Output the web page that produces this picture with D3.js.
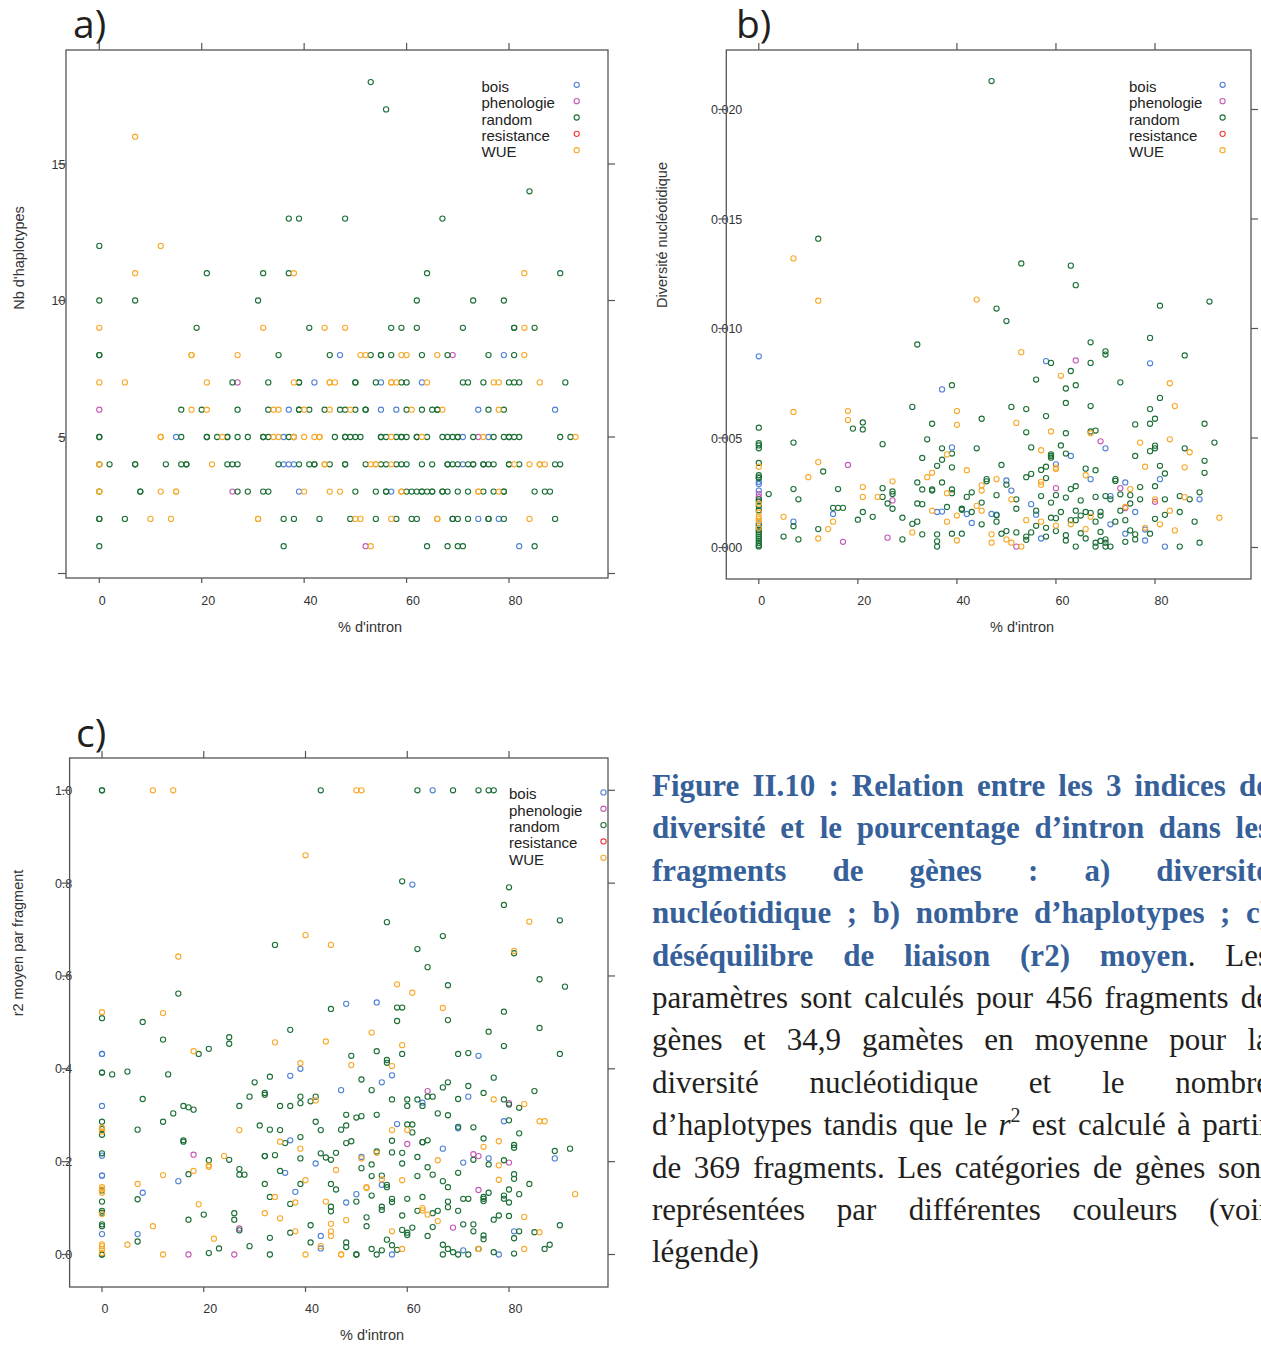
<!DOCTYPE html>
<html><head><meta charset="utf-8">
<script src="https://cdn.jsdelivr.net/npm/d3@7"></script>
<style>body{margin:0;background:#fff}svg{display:block}</style>
</head><body>
<svg id="chart" width="1261" height="1347"></svg>
<script>
// ---------- shared ----------
const categories = ["bois","phenologie","random","resistance","WUE"];
const catColors = ["#4f81d6","#c45ab8","#1b6e35","#f23a3a","#f7a92a"];
const xTicks = [0,20,40,60,80];
const xTickLabels = ["0","20","40","60","80"];
const xTitle = "% d'intron";

// ---------- panel a : Nb d'haplotypes (rows: [y, [x...]]) ----------
const hapTicks = [0,5,10,15];
const hapTickLabels = ["","5","10","15"];
const hapBoisRows = [[8,[47,79]],[7,[42,55,63]],[6,[37,55,58,74,89]],[5,[15,36,38,71,76]],[4,[36,37,38,71]],[3,[39,57]],[2,[74,78]],[1,[82]]];
const hapPhenoRows = [[8,[69]],[7,[27]],[6,[0]],[5,[74]],[3,[26]],[1,[52]]];
const hapRandomRows = [
 [18,[53]],[17,[56]],[14,[84]],[13,[37,39,48,67]],[12,[0]],[11,[21,32,37,64,90]],[10,[0,7,31,62,73,79]],
 [9,[19,41,57,59,62,71,81,81,85]],
 [8,[0,0,35,45,53,55,55,57,63,68,76,81]],
 [7,[26,33,39,39,50,50,54,59,60,71,72,75,80,81,82,91]],
 [6,[16,20,27,33,39,39,41,44,47,48,50,52,52,60,63,65,66,66,76,79]],
 [5,[0,0,16,21,21,23,25,25,27,29,32,32,33,37,46,48,48,49,50,51,55,55,56,58,59,59,60,62,62,64,67,68,69,70,70,73,77,79,80,80,81,82,90,92]],
 [4,[0,2,7,7,13,16,17,17,25,26,27,35,39,41,42,42,45,48,48,52,55,56,58,59,60,63,65,68,68,69,70,72,73,73,75,75,76,77,80,80,82,89,90]],
 [3,[0,8,8,27,29,32,33,50,54,56,56,60,61,62,63,63,64,65,65,67,67,68,70,72,75,77,79,79,85,87,88]],
 [2,[0,0,5,36,38,43,49,54,58,61,62,69,69,70,72,76,76,79,89]],
 [1,[0,36,64,68,70,71,85]]
];
const hapResistRows = [];
const hapWUERows = [
 [16,[7]],[12,[12]],[11,[7,38,83]],[9,[0,32,44,48,83]],[8,[18,18,27,51,52,59,60,66,83]],
 [7,[0,5,21,38,45,45,46,57,57,58,64,77,78,86]],
 [6,[18,21,34,35,40,45,49,61,67,78]],
 [5,[12,12,24,34,35,38,38,40,42,43,43,57,63,75,93]],
 [4,[0,0,22,44,44,53,54,54,57,81,84,86,86,87]],
 [3,[0,0,12,15,15,40,45,47,59,59,74,74,78]],
 [2,[10,14,31,31,50,51,57,66,66,84]],
 [1,[53]]
];

// ---------- panel b : Diversité nucléotidique ----------
const divTicks = [0,0.005,0.010,0.015,0.020];
const divTickLabels = ["0.000","0.005","0.010","0.015","0.020"];
const divBois = [[0,.00873],[58,.00851],[79,.00841],[37,.00722],[39,.00457],[70,.00453],[63,.00418],[60,.0038],[67,.00312],[81,.00312],[50,.00306],[74,.00297],[71,.00235],[89,.0022],[55,.00198],[36,.00162],[37,.00164],[76,.00162],[42,.00153],[47,.00153],[15,.00153],[43,.00112],[71,.00106],[7,.00118],[78,.00082],[74,.00063],[57,.00041],[78,.00032],[82,.00004],[0,.003],[0,.0029],[0,.0026],[0,.0011],[0,.0009],[48,.0015],[56,.0015],[51,.0026]];
const divPheno = [[64,.00854],[69,.00485],[18,.00377],[60,.00271],[73,.00271],[27,.00215],[80,.00209],[26,.00045],[17,.00026],[52,.00004],[0,.00245],[0,.0023],[74,.0018]];
const divRandom = [[47,.0213],[12,.0141],[53,.01297],[63,.01287],[64,.01198],[91,.01123],[81,.01104],[48,.01091],[50,.01034],[79,.00957],[32,.00927],[67,.00937],[70,.00896],[70,.00881],[86,.00877],[59,.00843],[67,.00843],[63,.00806],[56,.00767],[73,.00754],[39,.00741],[64,.00741],[62,.00726],[81,.00683],[62,.0066],[31,.00642],[51,.00642],[67,.00646],[54,.00632],[79,.00632],[58,.006],[45,.00588],[80,.00588],[21,.00571],[35,.00565],[76,.00562],[79,.00565],[90,.00565],[0,.00547],[19,.00543],[21,.00539],[62,.00522],[54,.00526],[67,.0053],[68,.00534],[7,.00479],[0,.00476],[0,.00466],[25,.00472],[34,.00494],[92,.00479],[61,.00466],[0,.00453],[37,.00453],[44,.00453],[55,.00457],[80,.00465],[80,.00453],[79,.0044],[86,.00453],[39,.00429],[59,.00425],[59,.00418],[59,.0041],[62,.00429],[76,.00418],[33,.00409],[37,.00401],[90,.00396],[0,.00386],[49,.00377],[36,.00373],[81,.00373],[39,.00366],[58,.00369],[66,.0036],[68,.00353],[13,.00347],[57,.00354],[90,.00341],[82,.00338],[55,.00336],[0,.0033],[0,.00317],[54,.00321],[58,.00317],[72,.00312],[72,.00304],[46,.00312],[46,.00302],[32,.00297],[37,.00297],[50,.00287],[64,.0028],[80,.0028],[25,.00271],[16,.00267],[7,.00267],[63,.00267],[77,.00276],[33,.00265],[35,.0026],[35,.00265],[39,.00265],[27,.00256],[2,.00244],[27,.00244],[39,.00248],[43,.00252],[57,.00235],[60,.00239],[73,.00243],[75,.00239],[70,.00235],[89,.00252],[85,.00235],[87,.0022],[25,.00231],[42,.00231],[48,.00239],[62,.00228],[52,.0022],[65,.00215],[68,.00231],[71,.0022],[82,.0022],[8,.0022],[26,.00201],[32,.00201],[33,.00198],[59,.00205],[45,.00205],[75,.00201],[77,.0022],[38,.00185],[15,.00181],[16,.00181],[17,.00181],[27,.00177],[41,.00177],[41,.00172],[52,.00177],[43,.00162],[21,.00162],[56,.00168],[61,.00162],[64,.00168],[66,.00162],[67,.00158],[69,.00162],[73,.00168],[85,.00162],[48,.00147],[23,.0014],[29,.00136],[59,.00136],[60,.00134],[65,.00146],[69,.00146],[20,.00127],[32,.00118],[45,.00106],[48,.00118],[63,.00125],[64,.00125],[68,.00118],[72,.00118],[74,.00125],[80,.00131],[82,.00149],[88,.00118],[7,.00097],[31,.00108],[56,.00099],[58,.0009],[12,.00084],[60,.00075],[69,.00071],[75,.00078],[49,.00063],[50,.00075],[52,.00069],[55,.00069],[65,.00065],[33,.0006],[36,.0006],[39,.00063],[41,.00063],[79,.00063],[62,.00056],[76,.0006],[5,.0005],[54,.0005],[58,.0005],[8,.00037],[29,.00037],[62,.00032],[66,.00041],[36,.00028],[70,.00037],[68,.00022],[70,.00022],[76,.00037],[74,.00026],[89,.00022],[36,.00004],[64,.00004],[68,.00004],[70,.00004],[71,.00004],[85,.00004],[69,.0003],[54,.00035],[0,.0032],[0,.0021],[0,.0019],[0,.001],[0,.0008],[0,.0007],[0,.0006],[0,.0005],[0,.0004],[0,.0003],[0,.0002],[0,.0001],[0,.00005],[0,.0022],[0,.0017]];
const divResist = [];
const divWUE = [[7,.0132],[12,.01127],[44,.01132],[53,.00892],[61,.00784],[83,.0075],[84,.00646],[7,.00619],[18,.00623],[40,.00623],[18,.00582],[52,.00569],[40,.0056],[59,.0053],[67,.00522],[77,.00479],[83,.00494],[57,.00444],[87,.00435],[38,.00425],[12,.0039],[0,.00369],[78,.00369],[86,.00366],[60,.00358],[42,.00353],[35,.00341],[34,.00321],[10,.00321],[66,.0033],[27,.00302],[48,.00312],[57,.00287],[45,.00284],[21,.00276],[75,.00267],[38,.00248],[21,.00231],[24,.00231],[51,.0022],[44,.0019],[74,.00185],[83,.00168],[35,.00168],[45,.00168],[40,.00146],[5,.0014],[93,.00136],[15,.00118],[38,.00118],[54,.00125],[57,.00118],[63,.00106],[81,.00106],[14,.00084],[31,.00069],[66,.00084],[78,.0009],[84,.00078],[47,.0006],[12,.00041],[50,.00037],[40,.00032],[47,.00022],[51,.00022],[53,.00004],[45,.0026],[60,.00365],[57,.003],[0,.002],[0,.0016],[0,.0014],[0,.0013],[0,.0012],[0,.0009],[86,.0023],[67,.0014],[60,.001],[80,.0022]];

// ---------- panel c : r2 moyen par fragment ----------
const r2Ticks = [0,0.2,0.4,0.6,0.8,1.0];
const r2TickLabels = ["0.0","0.2","0.4","0.6","0.8","1.0"];
const r2Bois = [[65,1],[61,.797],[48,.54],[54,.543],[0,.432],[0,.432],[74,.428],[39,.4],[37,.385],[57,.386],[55,.371],[47,.354],[72,.34],[63,.327],[0,.32],[79,.287],[58,.281],[70,.272],[37,.246],[67,.228],[0,.213],[51,.21],[71,.198],[76,.207],[89,.207],[42,.196],[36,.176],[0,.17],[0,.17],[15,.158],[55,.15],[8,.133],[38,.135],[50,.13],[48,.112],[0,.044],[7,.044],[43,.04],[81,.05],[43,.013],[71,.009],[57,0],[78,0]];
const r2Pheno = [[64,.352],[80,.326],[60,.238],[18,.215],[73,.216],[74,.212],[80,.198],[74,.139],[69,.058],[27,.056],[17,0],[26,0]];
const r2Random = [[0,1],[0,1],[43,1],[62,1],[69,1],[74,1],[76,1],[77,1],[59,.804],[80,.791],[79,.753],[90,.72],[56,.716],[67,.686],[34,.667],[81,.649],[15,.562],[62,.658],[64,.619],[86,.593],[68,.58],[91,.577],[0,.509],[8,.501],[58,.532],[59,.532],[45,.529],[58,.503],[68,.505],[79,.523],[86,.488],[37,.484],[76,.48],[12,.463],[25,.468],[25,.454],[79,.449],[21,.443],[19,.432],[54,.438],[49,.428],[59,.432],[70,.432],[72,.434],[90,.432],[56,.419],[56,.413],[0,.392],[0,.392],[2,.388],[5,.394],[13,.388],[33,.383],[77,.381],[51,.377],[30,.371],[68,.371],[72,.363],[67,.36],[53,.354],[85,.352],[32,.348],[32,.344],[39,.34],[42,.34],[75,.348],[29,.34],[8,.335],[57,.334],[60,.334],[62,.334],[64,.34],[65,.34],[70,.335],[79,.334],[41,.33],[63,.32],[80,.323],[60,.32],[27,.32],[35,.32],[37,.32],[39,.326],[16,.32],[17,.317],[18,.312],[82,.316],[14,.304],[66,.304],[48,.301],[54,.301],[51,.298],[50,.295],[68,.3],[0,.286],[12,.286],[80,.289],[42,.286],[31,.278],[60,.28],[61,.28],[48,.278],[70,.275],[73,.274],[0,.27],[0,.258],[7,.269],[33,.269],[35,.268],[43,.268],[47,.269],[61,.263],[82,.261],[57,.245],[49,.244],[48,.24],[39,.253],[16,.246],[16,.243],[36,.24],[64,.246],[63,.242],[63,.242],[75,.25],[92,.228],[89,.223],[81,.236],[81,.23],[54,.222],[57,.22],[59,.219],[43,.218],[46,.219],[0,.218],[34,.214],[32,.212],[32,.212],[39,.207],[44,.209],[45,.204],[25,.204],[21,.203],[62,.21],[73,.204],[76,.194],[79,.203],[59,.196],[53,.194],[27,.184],[35,.18],[51,.186],[64,.188],[17,.173],[27,.172],[28,.172],[62,.169],[70,.176],[81,.173],[81,.163],[65,.172],[55,.17],[53,.169],[67,.158],[32,.152],[45,.152],[39,.152],[84,.152],[56,.15],[56,.145],[68,.145],[46,.14],[80,.14],[0,.138],[76,.133],[82,.13],[79,.127],[53,.127],[33,.124],[7,.119],[63,.124],[75,.124],[75,.12],[75,.115],[71,.12],[72,.12],[60,.12],[57,.12],[57,.113],[79,.12],[80,.112],[37,.109],[50,.114],[0,.114],[45,.103],[45,.093],[55,.103],[55,.096],[62,.094],[66,.094],[65,.089],[70,.094],[68,.114],[68,.102],[0,.094],[0,.09],[26,.089],[20,.086],[59,.084],[52,.08],[78,.084],[80,.083],[17,.075],[26,.075],[77,.075],[41,.063],[0,.065],[0,.061],[52,.061],[71,.065],[73,.065],[65,.059],[61,.058],[27,.052],[37,.047],[59,.053],[60,.047],[60,.042],[73,.05],[82,.05],[85,.048],[75,.041],[75,.033],[64,.04],[90,.063],[81,.035],[33,.036],[7,.028],[56,.032],[41,.026],[57,.02],[48,.026],[48,.016],[67,.021],[88,.021],[29,.018],[23,.013],[53,.012],[55,.009],[58,.01],[68,.012],[87,.012],[74,.012],[69,.005],[77,.005],[0,0],[0,0],[21,.003],[33,0],[50,0],[50,0],[54,0],[67,0],[70,0],[72,0],[81,.002]];
const r2Resist = [];
const r2WUE = [[10,1],[14,1],[50,1],[51,1],[40,.86],[84,.717],[40,.688],[45,.667],[81,.654],[15,.642],[58,.582],[61,.564],[0,.522],[12,.52],[67,.531],[53,.478],[44,.459],[34,.457],[59,.451],[18,.438],[39,.412],[49,.408],[57,.406],[42,.332],[77,.334],[83,.324],[86,.287],[87,.287],[0,.273],[0,.265],[27,.268],[57,.268],[60,.268],[35,.243],[78,.244],[75,.232],[39,.228],[54,.219],[24,.212],[51,.207],[66,.203],[21,.189],[21,.192],[78,.192],[46,.182],[18,.18],[12,.171],[55,.162],[59,.16],[40,.16],[78,.161],[7,.152],[52,.145],[52,.143],[0,.145],[0,.14],[0,.133],[93,.13],[34,.124],[38,.112],[44,.114],[19,.108],[63,.1],[63,.095],[0,.087],[32,.089],[64,.086],[83,.081],[35,.078],[66,.072],[48,.074],[10,.061],[45,.066],[38,.05],[57,.05],[45,.05],[45,.04],[86,.048],[22,.034],[5,.021],[43,.018],[0,.022],[0,.018],[0,.012],[59,.012],[74,.012],[12,0],[40,0],[47,0],[47,0],[0,.003],[83,.012]];

// ---------- caption ----------
const captionLines = [
 [["Figure II.10 : Relation entre les 3 indices de","b"]],
 [["diversité et le pourcentage d’intron dans les","b"]],
 [["fragments de gènes : a) diversité","b"]],
 [["nucléotidique ; b) nombre d’haplotypes ; c)","b"]],
 [["déséquilibre de liaison (r2) moyen","b"],[". Les","n"]],
 [["paramètres sont calculés pour 456 fragments de","n"]],
 [["gènes et 34,9 gamètes en moyenne pour la","n"]],
 [["diversité nucléotidique et le nombre","n"]],
 [["d’haplotypes tandis que le ","n"],["r","i"],["2","sup"],[" est calculé à partir","n"]],
 [["de 369 fragments. Les catégories de gènes sont","n"]],
 [["représentées par différentes couleurs (voir","n"]],
 [["légende)","n"]]
];

// ================= drawing =================
const svg = d3.select("#chart");
svg.append("rect").attr("width",1261).attr("height",1347).attr("fill","#fff");
const frameCol = "#555";
const txtCol = "#333";
const sans = "'Liberation Sans', Arial, sans-serif";

const rowsToPts = rows => rows.flatMap(([y,xs]) => xs.map(x => [x,y]));

const panels = [
 { label:"a)", lx:73, ly:38,
   frame:{l:66,r:608,t:50,b:578},
   xr:[99.3,509], yd:[0,15], yr:[573.5,164],
   ticks:hapTicks, tickLabels:hapTickLabels, ylabX:65.5,
   title:"Nb d'haplotypes", titleX:24, titleY:258, xTitleX:370, xTitleY:632, xlabY:605,
   legX:481.5, legCx:576.7, legY:84.8,
   data:[rowsToPts(hapBoisRows),rowsToPts(hapPhenoRows),rowsToPts(hapRandomRows),rowsToPts(hapResistRows),rowsToPts(hapWUERows)] },
 { label:"b)", lx:736, ly:38,
   frame:{l:726.3,r:1251,t:50,b:579},
   xr:[758.8,1155], yd:[0,0.02], yr:[547.5,109.5],
   ticks:divTicks, tickLabels:divTickLabels, ylabX:742.3,
   title:"Diversité nucléotidique", titleX:667, titleY:235, xTitleX:1022, xTitleY:632, xlabY:605,
   legX:1129, legCx:1222.6, legY:84.8,
   data:[divBois,divPheno,divRandom,divResist,divWUE] },
 { label:"c)", lx:76, ly:747,
   frame:{l:69.6,r:608,t:758,b:1287},
   xr:[102,509], yd:[0,1], yr:[1254.5,790.3],
   ticks:r2Ticks, tickLabels:r2TickLabels, ylabX:72.3,
   title:"r2 moyen par fragment", titleX:23, titleY:943, xTitleX:372, xTitleY:1340, xlabY:1313,
   legX:509, legCx:603.5, legY:792.4,
   data:[r2Bois,r2Pheno,r2Random,r2Resist,r2WUE] }
];

panels.forEach(p => {
  const g = svg.append("g");
  const x = d3.scaleLinear().domain([0,80]).range(p.xr);
  const y = d3.scaleLinear().domain(p.yd).range(p.yr);
  const f = p.frame;

  // panel letter
  g.append("text").attr("x",p.lx).attr("y",p.ly).text(p.label)
    .attr("font-family","'Open Sans', Lato, sans-serif").attr("font-size",39).attr("fill","#231f20");

  // y tick labels (drawn before ticks, ticks cross them)
  g.selectAll(null).data(p.ticks).join("text")
    .attr("x",p.ylabX).attr("y",d=>y(d)).attr("dy","0.36em").attr("text-anchor","end")
    .attr("font-family",sans).attr("font-size",12.5).attr("fill",txtCol)
    .text((d,i)=>p.tickLabels[i]);

  // points
  categories.forEach((c,i) => {
    g.append("g").selectAll("circle").data(p.data[i]).join("circle")
      .attr("cx",d=>x(d[0])).attr("cy",d=>y(d[1])).attr("r",2.6)
      .attr("fill","none").attr("stroke",catColors[i]).attr("stroke-width",1.1);
  });

  // frame
  g.append("rect").attr("x",f.l).attr("y",f.t).attr("width",f.r-f.l).attr("height",f.b-f.t)
    .attr("fill","none").attr("stroke",frameCol).attr("stroke-width",1.3);

  // y ticks left & right
  g.selectAll(null).data(p.ticks).join("line")
    .attr("x1",f.l-8).attr("x2",f.l).attr("y1",d=>y(d)).attr("y2",d=>y(d))
    .attr("stroke",frameCol).attr("stroke-width",1.2);
  g.selectAll(null).data(p.ticks).join("line")
    .attr("x1",f.r).attr("x2",f.r+7).attr("y1",d=>y(d)).attr("y2",d=>y(d))
    .attr("stroke",frameCol).attr("stroke-width",1.2);
  // x ticks top & bottom
  g.selectAll(null).data(xTicks).join("line")
    .attr("x1",d=>x(d)).attr("x2",d=>x(d)).attr("y1",f.t-7).attr("y2",f.t)
    .attr("stroke",frameCol).attr("stroke-width",1.2);
  g.selectAll(null).data(xTicks).join("line")
    .attr("x1",d=>x(d)).attr("x2",d=>x(d)).attr("y1",f.b).attr("y2",f.b+5)
    .attr("stroke",frameCol).attr("stroke-width",1.2);
  g.selectAll(null).data(xTicks).join("text")
    .attr("x",d=>x(d)-0.5).attr("y",p.xlabY).attr("text-anchor","start")
    .attr("font-family",sans).attr("font-size",12.5).attr("fill",txtCol)
    .text((d,i)=>xTickLabels[i]);

  // axis titles
  g.append("text").attr("x",p.xTitleX).attr("y",p.xTitleY).attr("text-anchor","middle")
    .attr("font-family",sans).attr("font-size",14.5).attr("fill",txtCol).text(xTitle);
  g.append("text").attr("transform",`translate(${p.titleX},${p.titleY}) rotate(-90)`)
    .attr("text-anchor","middle").attr("font-family",sans).attr("font-size",14.5)
    .attr("fill",txtCol).text(p.title);

  // legend
  const leg = g.append("g");
  categories.forEach((c,i) => {
    const cy = p.legY + i*16.35;
    leg.append("text").attr("x",p.legX).attr("y",cy+7).text(c)
      .attr("font-family",sans).attr("font-size",15).attr("fill","#222");
    leg.append("circle").attr("cx",p.legCx).attr("cy",cy).attr("r",2.6)
      .attr("fill","none").attr("stroke",catColors[i]).attr("stroke-width",1.1);
  });
});

// ---------- caption (justified) ----------
const capG = svg.append("g").attr("font-family","'Liberation Serif','Times New Roman',serif").attr("font-size",31);
const capLeft = 652, capRight = 1270, capTop = 796, capStep = 42.4;
const blue = "#36609a", black = "#231f20";
function styleSpan(ts, st){
  if (st==="b") ts.attr("font-weight","bold").attr("fill",blue);
  else ts.attr("fill",black);
  if (st==="i") ts.attr("font-style","italic");
  if (st==="sup") ts.attr("font-size",20).attr("dy",-13);
}
captionLines.forEach((segs, li) => {
  const words = [[]];
  segs.forEach(([t,st]) => {
    const parts = t.split(" ");
    parts.forEach((pt,k) => {
      if (k>0) words.push([]);
      if (pt.length) words[words.length-1].push([pt,st]);
    });
  });
  const ws = words.filter(w=>w.length);
  const yb = capTop + li*capStep;
  const nodes = ws.map(w => {
    const t = capG.append("text").attr("x",0).attr("y",yb);
    w.forEach(([s,st]) => { const ts = t.append("tspan").text(s); styleSpan(ts,st); });
    return t;
  });
  const widths = nodes.map(n => n.node().getBBox().width);
  const total = d3.sum(widths);
  const last = li === captionLines.length-1;
  const gap = last ? 8 : (capRight - capLeft - total)/(ws.length-1);
  let cx = capLeft;
  nodes.forEach((n,i) => { n.attr("x",cx); cx += widths[i] + gap; });
});
</script>
</body></html>
